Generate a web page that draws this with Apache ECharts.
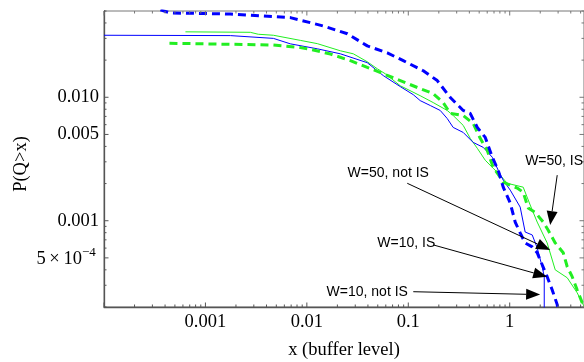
<!DOCTYPE html>
<html><head><meta charset="utf-8">
<script src="https://cdn.jsdelivr.net/npm/echarts@6.0.0/dist/echarts.min.js"></script>
<style>html,body{margin:0;padding:0;background:#fff}#c{width:584px;height:362px}</style>
</head><body><div id="c"></div>
<script>
// ---- data (x = buffer level, y = P(Q>x)) ----
const w10IS = [[3.6e-4,0.051],[4.5e-4,0.0482],[1.76e-3,0.0473],[6.87e-3,0.0442],[0.01456,0.0378],[0.0251,0.0327],[0.0394,0.0261],[0.0621,0.0229],[0.0893,0.0198],[0.1406,0.0164],[0.193,0.01366],[0.2596,0.00995],[0.348,0.00782],[0.408,0.0074],[0.479,0.0057],[0.574,0.00473],[0.673,0.00327],[0.771,0.00256],[0.863,0.00187],[1.012,0.00139],[1.133,9.75e-4],[1.268,7.96e-4],[1.42,6.61e-4],[1.667,6.14e-4],[1.866,5.5e-4],[2.09,4.4e-4],[2.34,3.52e-4],[2.62,2.76e-4],[2.94,2.09e-4],[3.0,1.9e-4]];
const w10notIS = [[1e-4,0.0318],[1.76e-3,0.0316],[4.68e-3,0.030],[6.87e-3,0.0271],[0.01267,0.0247],[0.0214,0.0225],[0.0394,0.01906],[0.0568,0.01497],[0.0834,0.0122],[0.112,0.0105],[0.131,0.0094],[0.165,0.00857],[0.2065,0.00782],[0.242,0.00673],[0.277,0.0057],[0.348,0.00519],[0.436,0.00431],[0.548,0.00393],[0.673,0.00327],[0.771,0.00256],[0.863,0.00213],[1.012,0.00177],[1.268,0.00129],[1.42,8.1e-4],[1.667,7.67e-4],[1.866,6.03e-4],[2.09,4.24e-4],[2.19,3.52e-4],[2.19,1e-4]];
const w50IS = [[4.42e-4,0.0274],[4.68e-3,0.0265],[8.63e-3,0.0253],[0.0108,0.0245],[0.0171,0.0224],[0.0269,0.0198],[0.0394,0.01746],[0.0568,0.0155],[0.0834,0.01366],[0.131,0.01175],[0.176,0.01072],[0.221,0.00906],[0.2596,0.0074],[0.348,0.00712],[0.436,0.00614],[0.512,0.00465],[0.600,0.00372],[0.687,0.00271],[0.805,0.00225],[0.863,0.00205],[1.186,0.00184],[1.358,0.0017],[1.52,0.00127],[1.783,0.00117],[2.14,9.75e-4],[2.39,8.41e-4],[2.81,6.61e-4],[3.37,5.5e-4],[3.69,4.24e-4],[4.13,3.52e-4],[4.62,2.76e-4],[5.18,2.17e-4],[5.6,1.95e-4]];
const w50notIS = [[6.35e-4,0.0339],[2.77e-3,0.0336],[3.32e-3,0.0324],[4.68e-3,0.0318],[8.63e-3,0.0289],[0.01267,0.0272],[0.0214,0.0238],[0.0287,0.0225],[0.0394,0.0194],[0.0496,0.0170],[0.0593,0.0155],[0.0834,0.0124],[0.131,0.0103],[0.176,0.00906],[0.242,0.00782],[0.277,0.00712],[0.348,0.00592],[0.408,0.00465],[0.479,0.00386],[0.574,0.00309],[0.687,0.00266],[0.805,0.00234],[0.944,0.00201],[1.358,0.00187],[1.592,0.00134],[1.866,9.75e-4],[2.34,6.61e-4],[2.81,4.0e-4],[3.69,3.45e-4],[4.62,2.61e-4],[5.30,2.09e-4],[5.6,1.95e-4]];

const xTickValues = [0.001, 0.01, 0.1, 1];
const xTickLabels = ['0.001', '0.01', '0.1', '1'];
const yTickValues = [0.01, 0.005, 0.001, 0.0005];
const yTickLabels = ['0.010', '0.005', '0.001', '5\u2009\u00d7\u200910^\u22124'];

// annotations: label, label anchor (data), arrow start (data), arrow tip (data)
const annLabels = ['W=50, not IS', 'W=10, IS', 'W=10, not IS', 'W=50, IS'];
const annText  = [[0.0635,0.00243],[0.0955,6.61e-4],[0.0394,2.66e-4],[2.74,0.00303]];
const annFrom  = [[0.0977,0.00201],[0.176,6.37e-4],[0.112,2.66e-4],[2.94,0.00234]];
const annTo    = [[2.506,5.80e-4],[2.34,3.52e-4],[1.995,2.52e-4],[2.506,9.23e-4]];

const xMin = 1e-4, xMax = 5.4, yMin = 2e-4, yMax = 0.05;
const BLUE = '#0000ff', GREEN = '#22ee22';
const SERIF = '"Liberation Serif","Times New Roman",serif';
const SANS = '"Liberation Sans",Arial,sans-serif';

const chart = echarts.init(document.getElementById('c'));
const mk = (name, data, color, dashed) => ({
  name, type: 'line', data, showSymbol: false, symbol: 'none', clip: true, animation: false,
  lineStyle: { color, width: dashed ? 3 : 1, type: dashed ? [8, 5] : 'solid' }
});
chart.setOption({
  animation: false,
  grid: { left: 104, right: 0, top: 11, bottom: 55, show: true, borderColor: '#777', borderWidth: 1 },
  xAxis: { type: 'log', logBase: 10, min: xMin, max: xMax,
    axisLine: { show: true, onZero: false, lineStyle: { color: '#555', width: 1.3 } },
    axisTick: { show: false }, axisLabel: { show: false }, splitLine: { show: false } },
  yAxis: { type: 'log', logBase: 10, min: yMin, max: yMax,
    axisLine: { show: true, onZero: false, lineStyle: { color: '#555', width: 1.3 } },
    axisTick: { show: false }, axisLabel: { show: false }, splitLine: { show: false } },
  series: [
    mk('W=50, not IS', w50notIS, GREEN, false),
    mk('W=10, not IS', w10notIS, BLUE, false),
    mk('W=50, IS', w50IS, GREEN, true),
    mk('W=10, IS', w10IS, BLUE, true)
  ]
});

const P = (x, y) => chart.convertToPixel({ gridIndex: 0 }, [x, y]);
const g = [];
const line = (x1, y1, x2, y2, color, w) => g.push({ type: 'line', silent: true, z: 10,
  shape: { x1, y1, x2, y2 }, style: { stroke: color, lineWidth: w } });
const text = (t, x, y, font, align, vAlign, rot) => g.push({ type: 'text', silent: true, z: 11, x, y, rotation: rot || 0,
  style: { text: t, font, fill: '#000', align, verticalAlign: vAlign, textAlign: align, textVerticalAlign: vAlign } });

const [gx0, gy1] = P(xMin, yMin);
const [gx1, gy0] = P(xMax, yMax);

// x ticks (bottom + top)
for (let d = 1e-4; d <= 10; d *= 10) {
  for (let m = 1; m <= 9; m++) {
    const v = m * d;
    if (v < xMin * 0.999 || v > xMax) continue;
    const px = P(v, yMin)[0];
    const len = m === 1 ? 4.5 : 2.5;
    line(px, gy1, px, gy1 - len, '#555', 1);
    line(px, gy0, px, gy0 + len, '#777', 1);
  }
}
// y ticks (left + right)
const isMajorY = v => yTickValues.some(t => Math.abs(t - v) / t < 1e-6);
for (let d = 1e-4; d <= 0.1; d *= 10) {
  for (let m = 1; m <= 9; m++) {
    const v = m * d;
    if (v < yMin * 0.999 || v > yMax * 1.001) continue;
    const py = P(xMin, v)[1];
    const len = isMajorY(v) ? 4.5 : 2.5;
    line(gx0, py, gx0 + len, py, '#555', 1);
    line(gx1, py, gx1 - len, py, '#777', 1);
  }
}
// x labels
xTickValues.forEach((v, i) => {
  const px = P(v, yMin)[0];
  text(xTickLabels[i], px, gy1 + 15.5, '18.5px ' + SERIF, 'center', 'middle');
});
// y labels
yTickValues.forEach((v, i) => {
  const py = P(xMin, v)[1];
  const lab = yTickLabels[i];
  if (lab.indexOf('^') >= 0) {
    const [base, sup] = lab.split('^');
    text(sup, gx0 - 22, py - 5, '13px ' + SERIF, 'left', 'middle');
    text(base, gx0 - 22, py + 1, '18.5px ' + SERIF, 'right', 'middle');
  } else {
    text(lab, gx0 - 5, py, '18.5px ' + SERIF, 'right', 'middle');
  }
});
// axis titles
text('x (buffer level)', (gx0 + gx1) / 2, 350, '18.5px ' + SERIF, 'center', 'middle');
text('P(Q>x)', 21, (gy0 + gy1) / 2 + 5, '18.5px ' + SERIF, 'center', 'middle', Math.PI / 2);

// annotations with arrows
annLabels.forEach((lab, i) => {
  const [tx, ty] = P(annText[i][0], annText[i][1]);
  text(lab, tx, ty, '14px ' + SANS, 'center', 'middle');
  const [x1, y1] = P(annFrom[i][0], annFrom[i][1]);
  const [x2, y2] = P(annTo[i][0], annTo[i][1]);
  const dx = x2 - x1, dy = y2 - y1, L = Math.hypot(dx, dy);
  const ux = dx / L, uy = dy / L, hl = 14, hw = 5.5;
  const bx = x2 - ux * hl, by = y2 - uy * hl;
  line(x1, y1, bx, by, '#000', 1);
  g.push({ type: 'polygon', silent: true, z: 12,
    shape: { points: [[x2, y2], [bx - uy * hw, by + ux * hw], [bx + uy * hw, by - ux * hw]] },
    style: { fill: '#000' } });
});

chart.setOption({ graphic: g });
</script>
</body></html>
